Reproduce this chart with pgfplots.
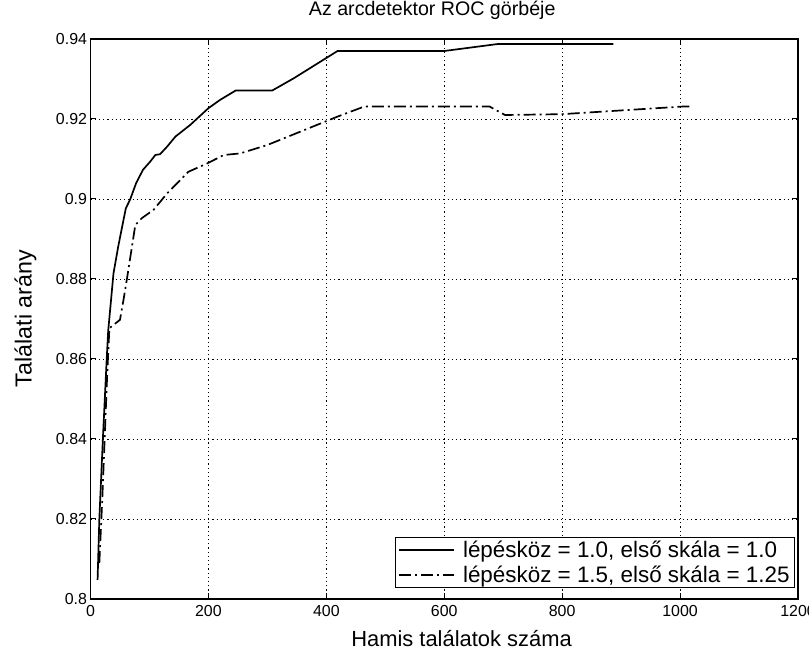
\documentclass[border=0pt]{standalone}
\usepackage{fontspec}
\setmainfont{Liberation Sans}
\usepackage{pgfplots}
\pgfplotsset{compat=1.18}
\begin{document}
\begin{tikzpicture}
\begin{axis}[
  at={(90.5bp,57bp)}, anchor=south west,
  scale only axis, width=707.5bp, height=560bp,
  xmin=0, xmax=1200, ymin=0.8, ymax=0.94,
  xtick={0,200,400,600,800,1000,1200},
  xticklabels={0,200,400,600,800,1000,1200},
  ytick={0.8,0.82,0.84,0.86,0.88,0.9,0.92,0.94},
  yticklabels={0.8,0.82,0.84,0.86,0.88,0.9,0.92,0.94},
  tick label style={font=\fontsize{16}{18}\selectfont},
  xticklabel style={yshift=-2.5bp},
  tick align=inside, tick pos=both,
  major tick length=6bp,
  tick style={black, line width=1bp},
  axis line style={black, line width=1.5bp},
  grid=major,
  major grid style={black, line width=0.8bp, dash pattern=on 1.2bp off 3bp},
  title={Az arcdetektor ROC görbéje},
  title style={at={(axis description cs:0.483,1.0321)}, anchor=base, font=\fontsize{19.7}{22}\selectfont},
  xlabel={Hamis találatok száma},
  xlabel style={at={(axis description cs:0.5244,-0.0857)}, anchor=base, font=\fontsize{22}{24}\selectfont},
  ylabel={Találati arány},
  ylabel style={at={(axis description cs:-0.0831,0.5005)}, anchor=base, font=\fontsize{23.3}{25}\selectfont},
  legend image code/.code={\draw[#1] (0bp,0bp) -- (55bp,0bp);},
  legend cell align=left,
  legend style={at={(axis description cs:0.9958,0.0196)}, anchor=south east,
    draw=black, line width=1bp, fill=white,
    font=\fontsize{22.5}{26}\selectfont,
    inner xsep=3bp, inner ysep=1.5bp, row sep=2bp,
    /tikz/every odd column/.append style={column sep=6bp},
    nodes={inner sep=2bp, text depth=0.2em}},
]
\addplot[black, line width=1.7bp] coordinates {
(12,0.8048) (15,0.82) (21,0.84) (27.5,0.86) (30,0.867) (39,0.8814) (47,0.8881)
(56,0.8948) (60,0.8977) (67,0.8998) (77.5,0.904) (89,0.9073) (101,0.9093)
(110,0.911) (118,0.9112) (130,0.9131) (144,0.9156) (169,0.9185) (200,0.9227)
(220,0.9248) (246,0.9271) (308,0.9271) (345,0.9302) (419,0.937) (600,0.937)
(691,0.93875) (887,0.93875)
};
\addlegendentry{lépésköz = 1.0, első skála = 1.0}
\addplot[black, line width=1.7bp, dash pattern=on 12bp off 4bp on 2bp off 4bp] coordinates {
(15,0.809) (20,0.825) (24,0.84) (28,0.855) (32,0.8677) (50,0.8698) (56,0.8748)
(62,0.8802) (76,0.8935) (87,0.8952) (107,0.8973) (130,0.9014) (166,0.9068)
(198,0.9089) (226,0.911) (254,0.9114) (300,0.9135) (419,0.9206) (464,0.9231)
(677,0.9231) (703,0.921) (799,0.9212) (1003,0.9231) (1020,0.9231)
};
\addlegendentry{lépésköz = 1.5, első skála = 1.25}
\end{axis}
\pgfresetboundingbox
\path (0,0) rectangle (809bp,656bp);
\end{tikzpicture}
\end{document}
